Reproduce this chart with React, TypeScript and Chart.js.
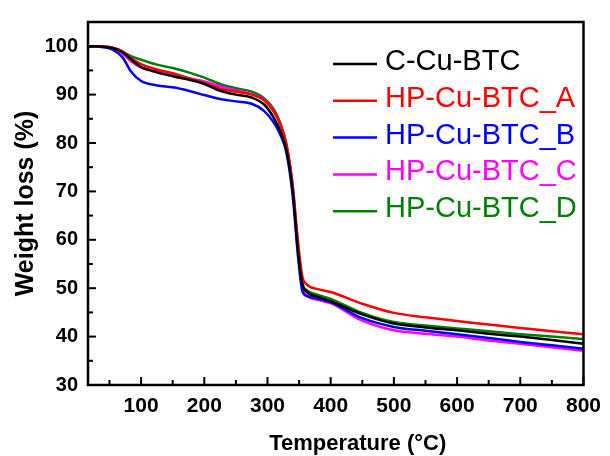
import React, { useEffect, useRef } from "react";
import { Chart, registerables } from "chart.js";

Chart.register(...registerables);

const temps = [16, 40, 55, 70, 85, 100, 125, 150, 175, 200, 225, 250, 275, 295, 310, 320, 330, 340, 348, 355, 362, 380, 400, 450, 500, 550, 600, 650, 700, 750, 800];

const cCuBTC = [100, 99.9, 99.6, 98.8, 97.2, 95.7, 94.6, 93.8, 93.1, 92.2, 90.8, 90.0, 89.4, 87.9, 85.2, 82.5, 78.5, 70, 58, 51, 49.3, 48.2, 47.3, 44.6, 42.7, 41.9, 41.3, 40.6, 40.0, 39.3, 38.5];
const hpA = [100, 99.9, 99.7, 99.0, 97.5, 96.3, 95.2, 94.4, 93.4, 92.4, 91.2, 90.6, 90.0, 88.8, 86.5, 84.0, 79.8, 71, 60, 52.5, 50.8, 49.8, 49.2, 46.8, 44.9, 44.0, 43.2, 42.5, 41.8, 41.1, 40.5];
const hpB = [100, 99.8, 99.3, 97.8, 94.6, 92.8, 91.9, 91.5, 90.8, 89.9, 89.1, 88.6, 88.1, 86.6, 84.2, 81.8, 78.0, 69, 57, 49.5, 48.4, 47.8, 47.1, 43.8, 42.0, 41.2, 40.5, 39.7, 38.9, 38.2, 37.5];
const hpC = [100, 99.9, 99.6, 98.6, 96.8, 95.6, 94.9, 94.2, 93.4, 92.7, 91.7, 90.9, 90.1, 88.9, 86.6, 83.8, 79.5, 71, 59, 50.5, 48.5, 47.6, 46.9, 43.3, 41.3, 40.6, 40.0, 39.2, 38.5, 37.8, 37.1];
const hpD = [100, 99.9, 99.7, 98.9, 97.9, 97.2, 96.2, 95.5, 94.6, 93.5, 92.2, 91.3, 90.6, 89.2, 87.0, 84.2, 79.6, 70.5, 58.5, 51, 49.6, 48.6, 47.8, 44.9, 43.0, 42.3, 41.7, 41.1, 40.5, 40.0, 39.5];

const seriesLabels = ["C-Cu-BTC", "HP-Cu-BTC_A", "HP-Cu-BTC_B", "HP-Cu-BTC_C", "HP-Cu-BTC_D"];
const seriesColors = ["#000000", "#ff0000", "#0000ff", "#ff00ff", "#008000"];
const seriesValues = [cCuBTC, hpA, hpB, hpC, hpD];

const xMajor = [100, 200, 300, 400, 500, 600, 700, 800];
const xMinor = [50, 150, 250, 350, 450, 550, 650, 750];
const yMajor = [30, 40, 50, 60, 70, 80, 90, 100];
const yMinor = [35, 45, 55, 65, 75, 85, 95];

const xTitle = "Temperature (°C)";
const yTitle = "Weight loss (%)";

const FONT = "'Liberation Sans', Arial, sans-serif";

const framePlugin = {
  id: "frameTicks",
  afterDraw(chart: any) {
    const { ctx, chartArea } = chart;
    const xs = chart.scales.x;
    const ys = chart.scales.y;
    ctx.save();
    ctx.strokeStyle = "#000";
    ctx.lineWidth = 2.5;
    ctx.strokeRect(chartArea.left, chartArea.top, chartArea.right - chartArea.left, chartArea.bottom - chartArea.top);
    ctx.lineWidth = 2;
    const b = chartArea.bottom;
    const l = chartArea.left;
    xMajor.forEach((v) => {
      const p = xs.getPixelForValue(v);
      ctx.beginPath(); ctx.moveTo(p, b); ctx.lineTo(p, b - 8); ctx.stroke();
    });
    xMinor.forEach((v) => {
      const p = xs.getPixelForValue(v);
      ctx.beginPath(); ctx.moveTo(p, b); ctx.lineTo(p, b - 5); ctx.stroke();
    });
    yMajor.forEach((v) => {
      const p = ys.getPixelForValue(v);
      ctx.beginPath(); ctx.moveTo(l, p); ctx.lineTo(l + 8, p); ctx.stroke();
    });
    yMinor.forEach((v) => {
      const p = ys.getPixelForValue(v);
      ctx.beginPath(); ctx.moveTo(l, p); ctx.lineTo(l + 5, p); ctx.stroke();
    });

    // axis titles
    ctx.fillStyle = "#000";
    ctx.textAlign = "center";
    ctx.textBaseline = "alphabetic";
    ctx.font = `bold 22px ${FONT}`;
    const cx = (chartArea.left + chartArea.right) / 2;
    ctx.fillText(xTitle, cx + 22, chartArea.bottom + 65);
    ctx.save();
    ctx.translate(chartArea.left - 55, (chartArea.top + chartArea.bottom) / 2);
    ctx.rotate(-Math.PI / 2);
    ctx.font = `bold 25px ${FONT}`;
    ctx.fillText(yTitle, 0, 0);
    ctx.restore();
    ctx.restore();
  },
};

const legendPlugin = {
  id: "insideLegend",
  afterDatasetsDraw(chart: any) {
    const { ctx, chartArea } = chart;
    ctx.save();
    ctx.font = `29px ${FONT}`;
    ctx.textBaseline = "middle";
    ctx.textAlign = "left";
    chart.data.datasets.forEach((ds: any, i: number) => {
      const y = chartArea.top + 42 + i * 36.8;
      const x0 = chartArea.left + 245;
      ctx.strokeStyle = ds.borderColor;
      ctx.lineWidth = 2.5;
      ctx.beginPath(); ctx.moveTo(x0, y); ctx.lineTo(x0 + 44, y); ctx.stroke();
      ctx.fillStyle = ds.borderColor;
      ctx.fillText(ds.label, x0 + 52, y - 2);
    });
    ctx.restore();
  },
};

export default function App() {
  const ref = useRef<HTMLCanvasElement | null>(null);
  useEffect(() => {
    if (!ref.current) return;
    const chart = new Chart(ref.current, {
      type: "line",
      data: {
        datasets: seriesLabels.map((label, i) => ({
          label,
          data: temps.map((t, j) => ({ x: t, y: seriesValues[i][j] })),
          borderColor: seriesColors[i],
          backgroundColor: seriesColors[i],
          borderWidth: 2.5,
          pointRadius: 0,
          cubicInterpolationMode: "monotone" as const,
          fill: false,
        })),
      },
      options: {
        animation: false,
        responsive: false,
        maintainAspectRatio: false,
        layout: { padding: { left: 0, right: 21, top: 13, bottom: 0 } },
        plugins: { legend: { display: false }, tooltip: { enabled: false } },
        scales: {
          x: {
            type: "linear",
            min: 16,
            max: 800,
            grid: { display: false, drawTicks: false },
            border: { display: false },
            afterBuildTicks: (axis: any) => { axis.ticks = xMajor.map((v) => ({ value: v })); },
            afterFit: (axis: any) => { axis.height = 71; },
            ticks: {
              color: "#000",
              padding: 9,
              maxRotation: 0,
              autoSkip: false,
              font: { family: FONT, size: 21, weight: "bold" },
            },
          },
          y: {
            type: "linear",
            min: 30,
            max: 105,
            grid: { display: false, drawTicks: false },
            border: { display: false },
            afterBuildTicks: (axis: any) => { axis.ticks = yMajor.map((v) => ({ value: v })); },
            afterFit: (axis: any) => { axis.width = 88; },
            ticks: {
              color: "#000",
              padding: 10,
              autoSkip: false,
              font: { family: FONT, size: 20, weight: "bold" },
            },
          },
        },
      },
      plugins: [framePlugin, legendPlugin],
    });
    return () => chart.destroy();
  }, []);
  return (
    <div style={{ position: "absolute", left: 0, top: 0, width: 610, height: 456, background: "#fff" }}>
      <canvas ref={ref} width={610} height={456} style={{ display: "block", width: 610, height: 456 }} />
    </div>
  );
}
